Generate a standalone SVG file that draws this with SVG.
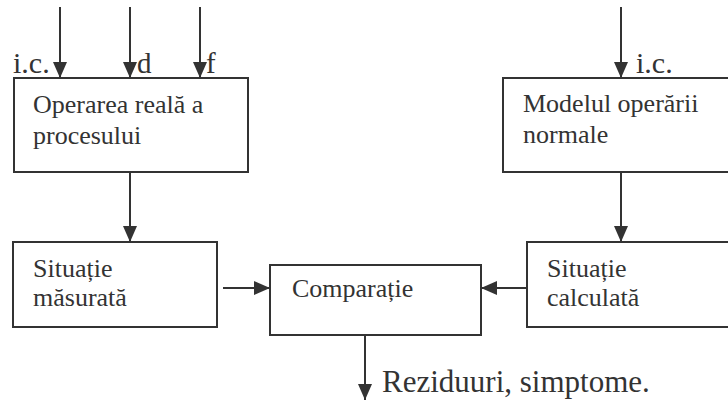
<svg xmlns="http://www.w3.org/2000/svg" width="728" height="403" viewBox="0 0 728 403">
  <style>
    .box { fill: #ffffff; stroke: #333333; stroke-width: 2; }
    .edge { stroke: #333333; stroke-width: 2; fill: none; marker-end: url(#arrow); }
  </style>
  <defs>
    <marker id="arrow" markerUnits="userSpaceOnUse" markerWidth="16" markerHeight="16" viewBox="0 0 16 14" refX="16" refY="7" orient="auto">
      <path d="M0,0 L16,7 L0,14 Z" fill="#333333"/>
    </marker>
  </defs>

  <rect width="728" height="403" fill="#ffffff"/>

  <!-- connectors -->
  <g id="connectors">
    <line class="edge" x1="60" y1="7" x2="60" y2="78"/>
    <line class="edge" x1="130" y1="7" x2="130" y2="78"/>
    <line class="edge" x1="200" y1="7" x2="200" y2="78"/>
    <line class="edge" x1="621" y1="7" x2="621" y2="78"/>
    <line class="edge" x1="130" y1="172" x2="130" y2="242"/>
    <line class="edge" x1="621" y1="172" x2="621" y2="242"/>
    <line class="edge" x1="223" y1="288" x2="270" y2="288"/>
    <line class="edge" x1="527" y1="288" x2="481" y2="288"/>
    <line class="edge" x1="365" y1="335" x2="365" y2="400"/>
  </g>

  <!-- input labels -->
  <g id="inputs">
    <text x="13" y="73" font-family="Liberation Serif" font-size="30" fill="#333333">i.c.</text>
    <text x="137" y="73" font-family="Liberation Serif" font-size="29" fill="#333333">d</text>
    <text x="206" y="73" font-family="Liberation Serif" font-size="29" fill="#333333">f</text>
    <text x="636" y="73" font-family="Liberation Serif" font-size="30" fill="#333333">i.c.</text>
  </g>

  <g id="operarea">
    <rect class="box" x="14" y="78" width="234" height="94"/>
    <text x="33" y="113" font-family="Liberation Serif" font-size="26" fill="#333333">Operarea reală a</text>
    <text x="33" y="144" font-family="Liberation Serif" font-size="26" fill="#333333">procesului</text>
  </g>

  <g id="modelul">
    <rect class="box" x="503" y="78" width="230" height="94"/>
    <text x="523" y="112" font-family="Liberation Serif" font-size="26" fill="#333333">Modelul operării</text>
    <text x="523" y="143" font-family="Liberation Serif" font-size="26" fill="#333333">normale</text>
  </g>

  <g id="masurata">
    <rect class="box" x="13" y="242" width="204" height="85"/>
    <text x="33" y="277" font-family="Liberation Serif" font-size="26" fill="#333333">Situație</text>
    <text x="33" y="306" font-family="Liberation Serif" font-size="26" fill="#333333">măsurată</text>
  </g>

  <g id="comparatie">
    <rect class="box" x="270" y="265" width="211" height="70"/>
    <text x="292" y="297" font-family="Liberation Serif" font-size="26" fill="#333333">Comparație</text>
  </g>

  <g id="calculata">
    <rect class="box" x="527" y="242" width="206" height="85"/>
    <text x="547" y="277" font-family="Liberation Serif" font-size="26" fill="#333333">Situație</text>
    <text x="547" y="306" font-family="Liberation Serif" font-size="26" fill="#333333">calculată</text>
  </g>

  <g id="reziduuri">
    <text x="382" y="392" font-family="Liberation Serif" font-size="31" fill="#333333">Reziduuri, simptome.</text>
  </g>
</svg>
